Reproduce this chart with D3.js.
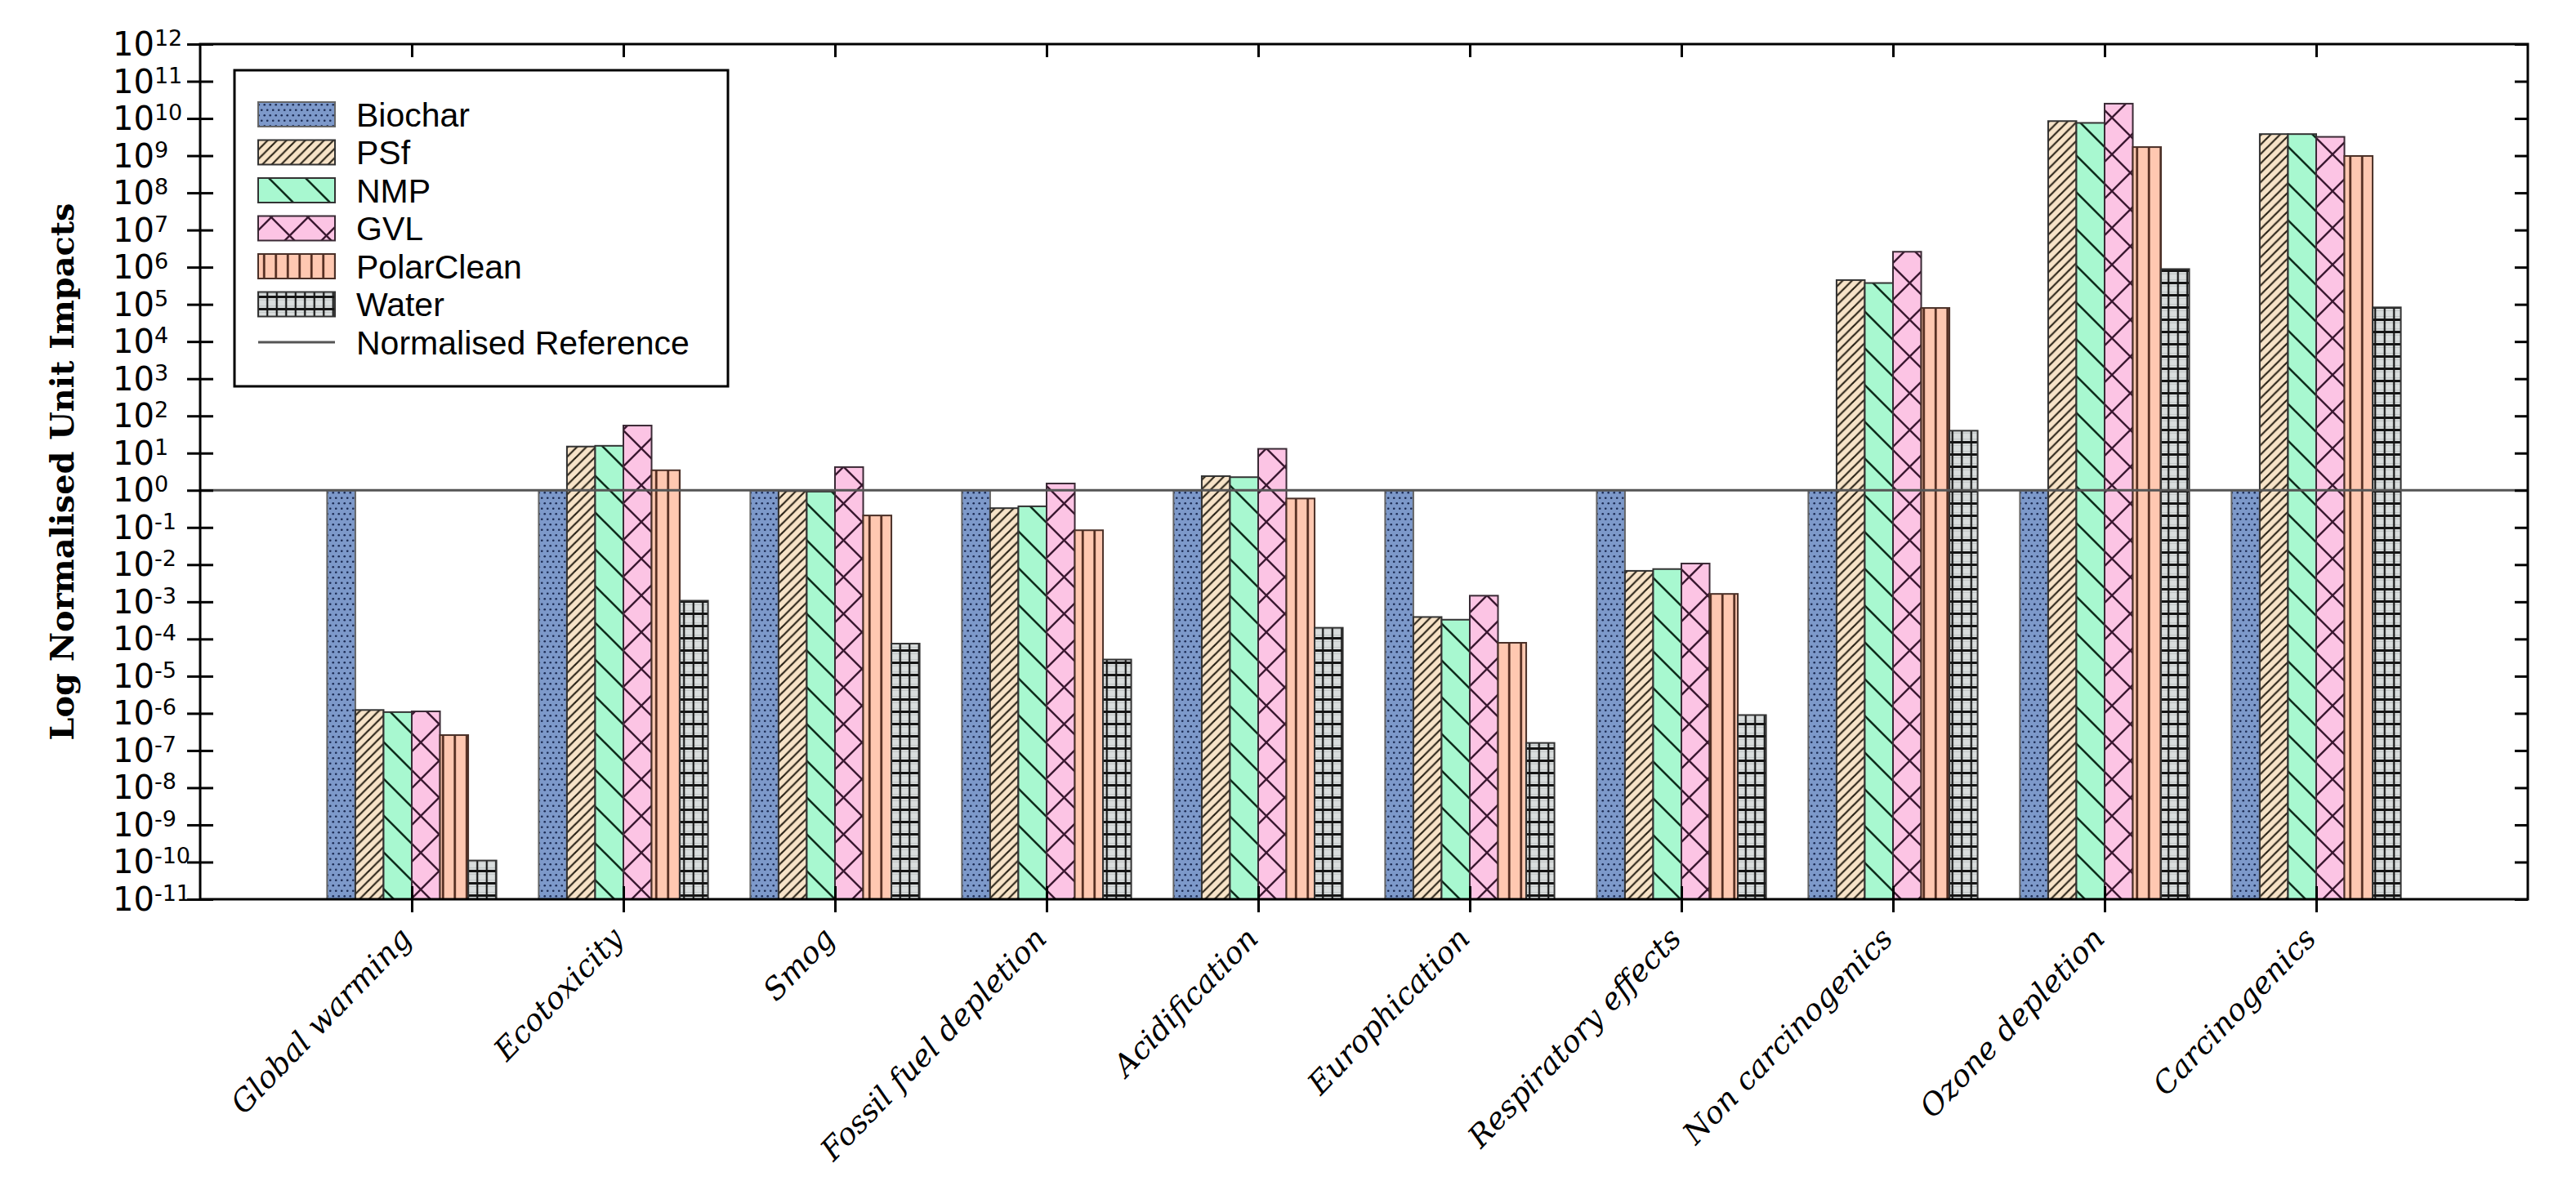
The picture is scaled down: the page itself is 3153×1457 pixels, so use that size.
<!DOCTYPE html>
<html>
<head>
<meta charset="utf-8">
<script src="https://cdn.jsdelivr.net/npm/d3@7"></script>
<style>
  body { margin: 0; background: #fff; }
</style>
</head>
<body>
<div id="chart"></div>
<script>
// categories and series
var categories = ["Global warming", "Ecotoxicity", "Smog", "Fossil fuel depletion", "Acidification",
  "Europhication", "Respiratory effects", "Non carcinogenics", "Ozone depletion", "Carcinogenics"];
var seriesNames = ["Biochar", "PSf", "NMP", "GVL", "PolarClean", "Water"];

var biochar    = [1, 1, 1, 1, 1, 1, 1, 1, 1, 1];
var psf        = [1.23e-6, 15, 0.95, 0.33, 2.4, 3.9e-4, 6.8e-3, 4.5e5, 8.5e9, 3.8e9];
var nmp        = [1.08e-6, 15.7, 0.92, 0.37, 2.25, 3.3e-4, 7.6e-3, 3.75e5, 7.6e9, 3.8e9];
var gvl        = [1.13e-6, 55, 4.2, 1.52, 13, 1.46e-3, 1.07e-2, 2.6e6, 2.5e10, 3.2e9];
var polarclean = [2.6e-7, 3.45, 0.21, 0.084, 0.60, 7.9e-5, 1.63e-3, 8.0e4, 1.7e9, 9.8e8];
var water      = [1.1e-10, 1.07e-3, 7.5e-5, 2.8e-5, 2.0e-4, 1.6e-7, 9e-7, 40, 8.9e5, 8.3e4];

var yTicks = [1e-11, 1e-10, 1e-9, 1e-8, 1e-7, 1e-6, 1e-5, 1e-4, 1e-3, 1e-2, 1e-1,
  1e0, 1e1, 1e2, 1e3, 1e4, 1e5, 1e6, 1e7, 1e8, 1e9, 1e10, 1e11, 1e12];

var allSeries = [biochar, psf, nmp, gvl, polarclean, water];

var svgWidth = 3153;
var svgHeight = 1457;
var margin = {top: 54, right: 59, bottom: 356, left: 245};
var width = svgWidth - margin.left - margin.right;
var height = svgHeight - margin.top - margin.bottom;

var svg = d3.select("#chart").append("svg")
  .attr("width", svgWidth)
  .attr("height", svgHeight);

var chartGroup = svg.append("g")
  .attr("transform", `translate(${margin.left}, ${margin.top})`);

// hatch patterns, roughly like the matplotlib ones
var defs = svg.append("defs");

function makePattern(id, w, h, bg, drawFn) {
  var p = defs.append("pattern")
    .attr("id", id)
    .attr("patternUnits", "userSpaceOnUse")
    .attr("width", w)
    .attr("height", h);
  p.append("rect").attr("width", w).attr("height", h).attr("fill", bg);
  drawFn(p, w, h);
}

function seg(p, x1, y1, x2, y2, col, sw) {
  p.append("line").attr("x1", x1).attr("y1", y1).attr("x2", x2).attr("y2", y2)
    .attr("stroke", col).attr("stroke-width", sw);
}

makePattern("pat-biochar", 7, 13, "#7d99ca", function(p) {
  p.append("circle").attr("cx", 1.75).attr("cy", 3.25).attr("r", 1.3).attr("fill", "#1b2a52");
  p.append("circle").attr("cx", 5.25).attr("cy", 9.75).attr("r", 1.3).attr("fill", "#1b2a52");
});
makePattern("pat-psf", 11.5, 11.5, "#f7e3c8", function(p, w, h) {
  var c = "#2b2418";
  seg(p, 0, h, w, 0, c, 2.2);
  seg(p, -2, 2, 2, -2, c, 2.2);
  seg(p, w - 2, h + 2, w + 2, h - 2, c, 2.2);
});
makePattern("pat-nmp", 45, 45, "#a8f8d0", function(p, w, h) {
  var c = "#0e2c1c";
  seg(p, 0, 0, w, h, c, 2.6);
  seg(p, -3, h - 3, 3, h + 3, c, 2.6);
  seg(p, w - 3, -3, w + 3, 3, c, 2.6);
});
makePattern("pat-gvl", 45, 45, "#fcc4e4", function(p, w, h) {
  var c = "#3a1830";
  seg(p, 0, 0, w, h, c, 2.4);
  seg(p, 0, h, w, 0, c, 2.4);
});
makePattern("pat-pc", 14.5, 20, "#ffc8b1", function(p, w, h) {
  seg(p, w / 2, 0, w / 2, h, "#4a2418", 2.6);
});
makePattern("pat-water", 11.5, 15, "#d9dddd", function(p, w, h) {
  seg(p, 0, 3.75, w, 3.75, "#b8bcbc", 0.8);
  seg(p, 0, 11.25, w, 11.25, "#b8bcbc", 0.8);
  seg(p, w / 2, 0, w / 2, h, "#151515", 2.2);
  seg(p, 0, h / 2, w, h / 2, "#151515", 3);
});

var patterns = ["url(#pat-biochar)", "url(#pat-psf)", "url(#pat-nmp)", "url(#pat-gvl)", "url(#pat-pc)", "url(#pat-water)"];
var edgeColors = ["#666", "#333", "#333", "#3a2a35", "#4a3028", "#333"];

// scales
var xScale = d3.scaleLinear().domain([0, categories.length + 1]).range([0, width]);
var yScale = d3.scaleLog().domain([1e-11, 1e12]).range([height, 0]);

var groupW = 0.8;
var barW = groupW / seriesNames.length;

// bars
allSeries.forEach(function(vals, j) {
  chartGroup.append("g")
    .selectAll("rect")
    .data(vals)
    .enter()
    .append("rect")
    .attr("x", (d, i) => xScale(i + 1 - groupW / 2 + j * barW))
    .attr("width", xScale(barW) - xScale(0))
    .attr("y", d => yScale(d))
    .attr("height", d => height - yScale(d))
    .attr("fill", patterns[j])
    .attr("stroke", edgeColors[j])
    .attr("stroke-width", 2);
});

// normalised reference line
chartGroup.append("line")
  .attr("x1", 0).attr("x2", width)
  .attr("y1", yScale(1)).attr("y2", yScale(1))
  .attr("stroke", "#555")
  .attr("stroke-width", 3);

// axes
var catTicks = categories.map((c, i) => i + 1);

var leftAxis = chartGroup.append("g")
  .call(d3.axisLeft(yScale).tickValues(yTicks).tickSize(16).tickSizeOuter(0).tickFormat(""));
leftAxis.select(".domain").remove();
leftAxis.selectAll(".tick line").attr("x1", 16).attr("stroke-width", 3);

var rightAxis = chartGroup.append("g")
  .attr("transform", `translate(${width}, 0)`)
  .call(d3.axisRight(yScale).tickValues(yTicks).tickSize(-16).tickSizeOuter(0).tickFormat(""));
rightAxis.select(".domain").remove();
rightAxis.selectAll(".tick line").attr("stroke-width", 3);

var topAxis = chartGroup.append("g")
  .call(d3.axisTop(xScale).tickValues(catTicks).tickSize(-16).tickSizeOuter(0).tickFormat(""));
topAxis.select(".domain").remove();
topAxis.selectAll(".tick line").attr("stroke-width", 3);

var bottomAxis = chartGroup.append("g")
  .attr("transform", `translate(0, ${height})`)
  .call(d3.axisBottom(xScale).tickValues(catTicks).tickSize(16).tickSizeOuter(0).tickFormat(""));
bottomAxis.select(".domain").remove();
bottomAxis.selectAll(".tick line").attr("y1", -16).attr("stroke-width", 3);

// frame
chartGroup.append("rect")
  .attr("width", width).attr("height", height)
  .attr("fill", "none")
  .attr("stroke", "#000")
  .attr("stroke-width", 3);

// y tick labels as 10^n
var yLabels = chartGroup.append("g")
  .attr("font-family", "DejaVu Sans")
  .attr("fill", "#000");
yTicks.forEach(function(v) {
  var t = yLabels.append("text")
    .attr("x", -107)
    .attr("y", yScale(v) + 14)
    .attr("font-size", 40);
  t.append("tspan").text("10");
  t.append("tspan")
    .attr("dy", -12)
    .attr("font-size", 27)
    .text(Math.round(Math.log10(v)));
});

// category labels
chartGroup.append("g")
  .selectAll("text")
  .data(categories)
  .enter()
  .append("text")
  .attr("transform", (d, i) => `translate(${xScale(i + 1) + 2}, ${height + 50}) rotate(-46)`)
  .attr("text-anchor", "end")
  .attr("font-family", "DejaVu Serif")
  .attr("font-style", "italic")
  .attr("font-size", 37)
  .text(d => d);

// y axis title
chartGroup.append("text")
  .attr("transform", `translate(${90 - margin.left}, ${height / 2}) rotate(-90)`)
  .attr("text-anchor", "middle")
  .attr("font-family", "DejaVu Serif")
  .attr("font-weight", "bold")
  .attr("font-size", 40)
  .attr("textLength", 658)
  .attr("lengthAdjust", "spacingAndGlyphs")
  .text("Log Normalised Unit Impacts");

// legend
var legend = chartGroup.append("g").attr("transform", "translate(42, 32)");
legend.append("rect")
  .attr("width", 604).attr("height", 387)
  .attr("fill", "#fff")
  .attr("stroke", "#000")
  .attr("stroke-width", 3);

var rowY = d => 54 + d * 46.5;

seriesNames.forEach(function(name, j) {
  legend.append("rect")
    .attr("x", 29).attr("y", rowY(j) - 15)
    .attr("width", 94).attr("height", 30)
    .attr("fill", patterns[j])
    .attr("stroke", edgeColors[j])
    .attr("stroke-width", 2);
  legend.append("text")
    .attr("x", 149).attr("y", rowY(j) + 14.5)
    .attr("font-family", "Liberation Sans")
    .attr("font-size", 41)
    .text(name);
});

legend.append("line")
  .attr("x1", 29).attr("x2", 123)
  .attr("y1", rowY(6)).attr("y2", rowY(6))
  .attr("stroke", "#555").attr("stroke-width", 3);
legend.append("text")
  .attr("x", 149).attr("y", rowY(6) + 14.5)
  .attr("font-family", "Liberation Sans")
  .attr("font-size", 41)
  .text("Normalised Reference");
</script>
</body>
</html>
